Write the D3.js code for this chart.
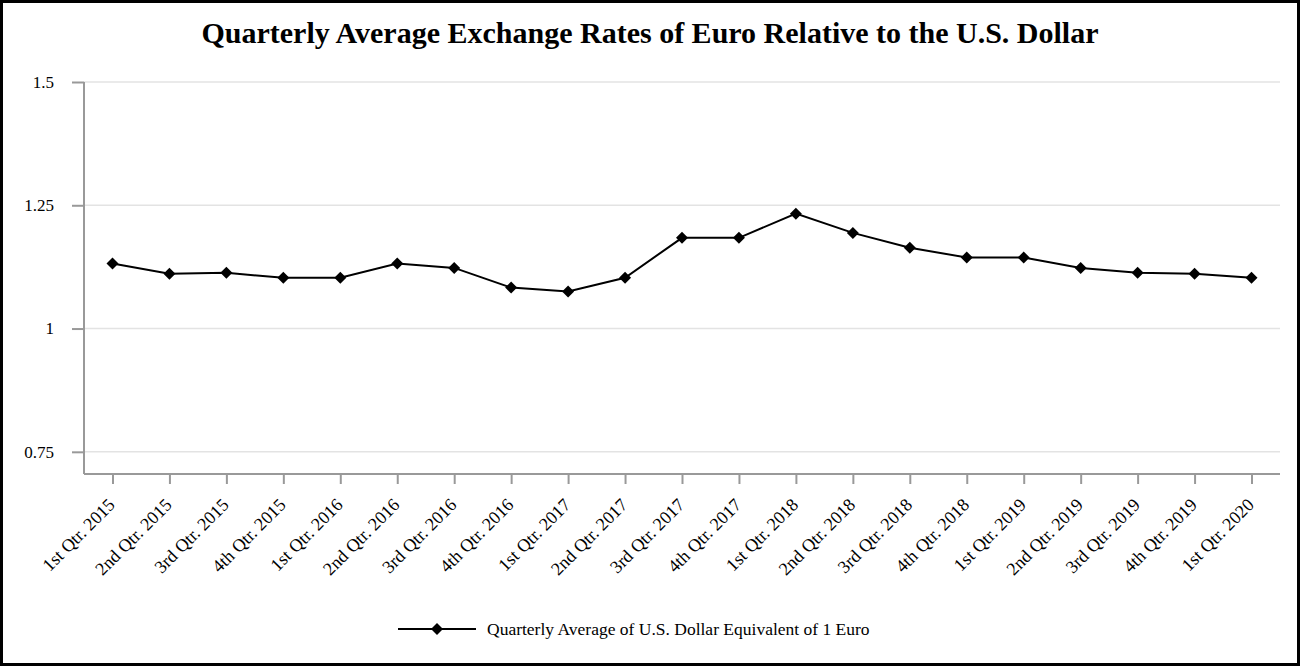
<!DOCTYPE html>
<html>
<head>
<meta charset="utf-8">
<script src="https://cdn.jsdelivr.net/npm/d3@7"></script>
<style>
  body { margin: 0; background: #fff; }
  text { font-family: "Liberation Serif", "Times New Roman", serif; fill: #000; }
</style>
</head>
<body>
<script>
// Chart data
var quarters = [
  '1st Qtr. 2015', '2nd Qtr. 2015', '3rd Qtr. 2015', '4th Qtr. 2015',
  '1st Qtr. 2016', '2nd Qtr. 2016', '3rd Qtr. 2016', '4th Qtr. 2016',
  '1st Qtr. 2017', '2nd Qtr. 2017', '3rd Qtr. 2017', '4th Qtr. 2017',
  '1st Qtr. 2018', '2nd Qtr. 2018', '3rd Qtr. 2018', '4th Qtr. 2018',
  '1st Qtr. 2019', '2nd Qtr. 2019', '3rd Qtr. 2019', '4th Qtr. 2019',
  '1st Qtr. 2020'
];
var rates = [
  1.132, 1.111, 1.113, 1.103,
  1.103, 1.132, 1.123, 1.083,
  1.075, 1.103, 1.184, 1.184,
  1.233, 1.194, 1.164, 1.144,
  1.144, 1.123, 1.113, 1.111,
  1.103
];
var yTicks = [0.75, 1, 1.25, 1.5];
var seriesName = 'Quarterly Average of U.S. Dollar Equivalent of 1 Euro';
var title = 'Quarterly Average Exchange Rates of Euro Relative to the U.S. Dollar';

var width = 1300;
var height = 666;
var plotLeft = 84, plotRight = 1280, plotTop = 82, plotBottom = 474;

var svg = d3.select('body')
  .append('svg')
  .attr('width', width)
  .attr('height', height);

// outer frame
svg.append('rect')
  .attr('x', 1.5).attr('y', 1.5)
  .attr('width', width - 3).attr('height', height - 3)
  .attr('fill', '#fff')
  .attr('stroke', '#000')
  .attr('stroke-width', 3);

svg.append('text')
  .attr('x', 650).attr('y', 43)
  .attr('text-anchor', 'middle')
  .style('font-size', '30px')
  .style('font-weight', 'bold')
  .text(title);

var x = d3.scalePoint()
  .domain(quarters)
  .range([plotLeft, plotRight])
  .padding(0.5);

var y = d3.scaleLinear()
  .domain([0.705, 1.5])
  .range([plotBottom, plotTop]);

// gridlines
svg.append('g')
  .selectAll('line')
  .data(yTicks)
  .join('line')
    .attr('x1', plotLeft).attr('x2', plotRight)
    .attr('y1', d => y(d)).attr('y2', d => y(d))
    .attr('stroke', '#e3e3e3')
    .attr('stroke-width', 1.5);

// y axis
var yAxis = svg.append('g')
  .attr('transform', 'translate(' + plotLeft + ',0)')
  .call(d3.axisLeft(y).tickValues(yTicks).tickSize(12).tickPadding(18).tickFormat(d3.format('')));
yAxis.select('.domain').attr('stroke', '#999').attr('stroke-width', 2).attr('d', 'M0,' + plotTop + 'V' + plotBottom);
yAxis.selectAll('.tick line').attr('stroke', '#999').attr('stroke-width', 2);
yAxis.selectAll('text').style('font-size', '17px').style('font-family', '"Liberation Serif", serif');

// x axis
var xAxis = svg.append('g')
  .attr('transform', 'translate(0,' + plotBottom + ')')
  .call(d3.axisBottom(x).tickSize(10));
xAxis.select('.domain').attr('stroke', '#999').attr('stroke-width', 2).attr('d', 'M' + plotLeft + ',0H' + plotRight);
xAxis.selectAll('.tick line').attr('stroke', '#999').attr('stroke-width', 2);
xAxis.selectAll('text')
  .style('font-size', '18px')
  .style('font-family', '"Liberation Serif", serif')
  .attr('text-anchor', 'end')
  .attr('dy', null)
  .attr('y', 0)
  .attr('transform', 'translate(3,32) rotate(-45)');

// line
var line = d3.line()
  .x((d, i) => x(quarters[i]))
  .y(d => y(d));

svg.append('path')
  .datum(rates)
  .attr('d', line)
  .attr('fill', 'none')
  .attr('stroke', '#000')
  .attr('stroke-width', 2);

var marker = d3.symbol().type(d3.symbolSquare).size(72);

svg.append('g')
  .selectAll('path')
  .data(rates)
  .join('path')
    .attr('d', marker)
    .attr('transform', (d, i) => 'translate(' + x(quarters[i]) + ',' + y(d) + ') rotate(45)')
    .attr('fill', '#000');

// legend
var legend = svg.append('g').attr('transform', 'translate(398,629)');
legend.append('line')
  .attr('x1', 0).attr('x2', 78)
  .attr('stroke', '#000').attr('stroke-width', 2);
legend.append('path')
  .attr('d', marker)
  .attr('transform', 'translate(39,0) rotate(45)');
legend.append('text')
  .attr('x', 89).attr('y', 6)
  .style('font-size', '17.5px')
  .text(seriesName);
</script>
</body>
</html>
